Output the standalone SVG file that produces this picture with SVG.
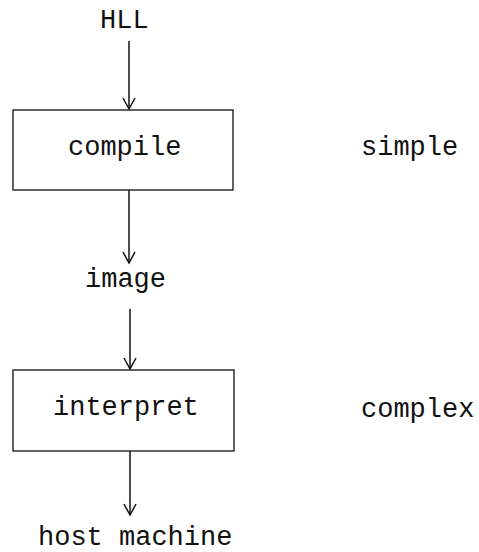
<svg xmlns="http://www.w3.org/2000/svg" width="479" height="552" viewBox="0 0 479 552">
  <style>
    text { font-family: "Liberation Mono", "Courier New", monospace; font-size: 27px; fill: #111; }
    .box { fill: none; stroke: #222; stroke-width: 1.4; }
    .edge { fill: none; stroke: #111; stroke-width: 1.5; }
  </style>
  <defs>
    <marker id="arr" markerUnits="userSpaceOnUse" markerWidth="16" markerHeight="16" viewBox="-13 -8 16 16" refX="0" refY="0" orient="auto">
      <path d="M-11,-6 L0,0 L-11,6" fill="none" stroke="#111" stroke-width="1.5"/>
    </marker>
  </defs>
  <rect width="479" height="552" fill="#fff"/>

  <g id="connectors">
    <line class="edge" x1="129" y1="41" x2="129" y2="109" marker-end="url(#arr)"/>
    <line class="edge" x1="129" y1="190" x2="129" y2="263" marker-end="url(#arr)"/>
    <line class="edge" x1="130" y1="309" x2="130" y2="369" marker-end="url(#arr)"/>
    <line class="edge" x1="130" y1="451" x2="130" y2="515" marker-end="url(#arr)"/>
  </g>

  <g id="hll"><text x="100" y="28">HLL</text></g>
  <g id="compile">
    <rect class="box" x="13" y="110" width="220" height="80"/>
    <text x="68" y="155">compile</text>
  </g>
  <g id="simple"><text x="361" y="155">simple</text></g>
  <g id="image"><text x="85" y="287">image</text></g>
  <g id="interpret">
    <rect class="box" x="13" y="370" width="221" height="81"/>
    <text x="53" y="415">interpret</text>
  </g>
  <g id="complex"><text x="361" y="417">complex</text></g>
  <g id="host"><text x="38" y="545">host machine</text></g>
</svg>
